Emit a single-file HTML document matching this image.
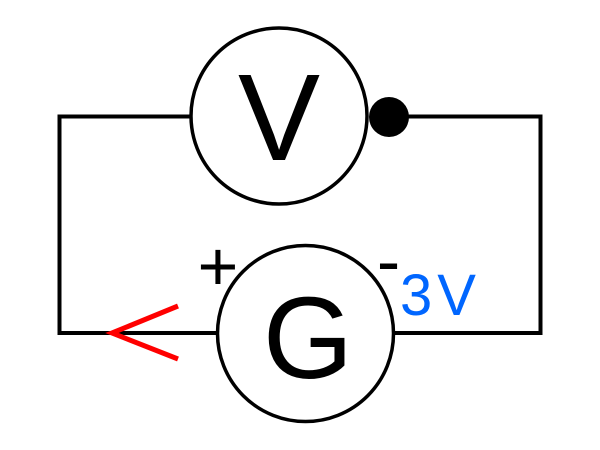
<!DOCTYPE html>
<html>
<head>
<meta charset="utf-8">
<style>
  html, body { margin: 0; padding: 0; background: #ffffff; }
  body { width: 600px; height: 450px; overflow: hidden; }
  svg { display: block; }
  text { font-family: "Liberation Sans", Arial, sans-serif; }
</style>
</head>
<body>
<svg width="600" height="450" viewBox="0 0 600 450" xmlns="http://www.w3.org/2000/svg">
  <rect width="600" height="450" fill="#ffffff"/>
  <!-- wires -->
  <g stroke="#000" stroke-width="4" fill="none" stroke-linejoin="miter" stroke-linecap="square">
    <polyline points="191,116.5 59.5,116.5 59.5,333 217,333"/>
    <polyline points="389,116.5 540.5,116.5 540.5,333 394,333"/>
  </g>
  <!-- V circle -->
  <circle cx="279" cy="116" r="88" fill="#fff" stroke="#000" stroke-width="3.5"/>
  <text x="279" y="160" font-size="123" text-anchor="middle" fill="#000">V</text>
  <!-- dot -->
  <circle cx="389" cy="117" r="20" fill="#000"/>
  <!-- G circle -->
  <circle cx="305.5" cy="333.5" r="88" fill="#fff" stroke="#000" stroke-width="3.5"/>
  <text x="308" y="378" font-size="116" text-anchor="middle" fill="#000">G</text>
  <!-- +/- -->
  <text x="218" y="290" font-size="70" text-anchor="middle" fill="#000">+</text>
  <text x="388.5" y="285" font-size="70" text-anchor="middle" fill="#000">-</text>
  <!-- 3V label -->
  <text x="400" y="315" font-size="58" letter-spacing="5" fill="#0066ff">3V</text>
  <!-- red arrow -->
  <polyline points="178,306 112,333 178,359" fill="none" stroke="#ff0000" stroke-width="5" stroke-linejoin="miter" stroke-miterlimit="10"/>
</svg>
</body>
</html>
